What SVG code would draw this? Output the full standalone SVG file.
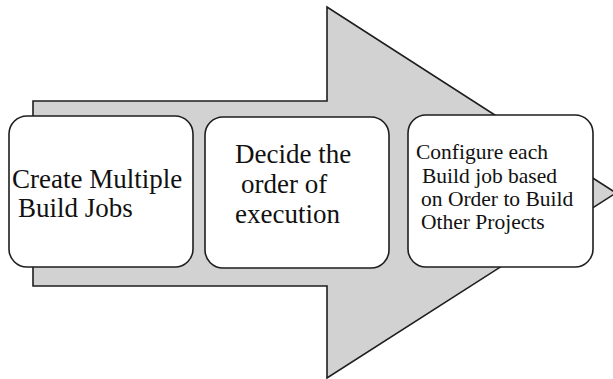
<svg xmlns="http://www.w3.org/2000/svg" width="613" height="379" viewBox="0 0 613 379">
<style>
.arrow{fill:#d2d2d2;stroke:#1e1e1e;stroke-width:1.6;stroke-linejoin:miter}
.box{fill:#ffffff;stroke:#1e1e1e;stroke-width:1.6}
text{font-family:'Liberation Serif','DejaVu Serif',serif;fill:#111}
.big{font-size:27px}
.small{font-size:21.5px}
</style>
<rect width="613" height="379" fill="#ffffff"/>
<g id="connectors">
<polygon class="arrow" points="33,101 327,101 327,7 616,193 327,378 327,286 33,286"/>
</g>
<g id="node1">
<rect class="box" x="9" y="116" width="184" height="151" rx="18"/>
<text class="big" x="12" y="188">Create Multiple</text>
<text class="big" x="18" y="217">Build Jobs</text>
</g>
<g id="node2">
<rect class="box" x="205" y="117" width="184" height="151" rx="18"/>
<text class="big" x="235" y="163">Decide the</text>
<text class="big" x="241" y="193">order of</text>
<text class="big" x="235" y="223">execution</text>
</g>
<g id="node3">
<rect class="box" x="408" y="115" width="185" height="152" rx="18"/>
<text class="small" x="416" y="159">Configure each</text>
<text class="small" x="422" y="183">Build job based</text>
<text class="small" x="421" y="206">on Order to Build</text>
<text class="small" x="421" y="229">Other Projects</text>
</g>
</svg>
